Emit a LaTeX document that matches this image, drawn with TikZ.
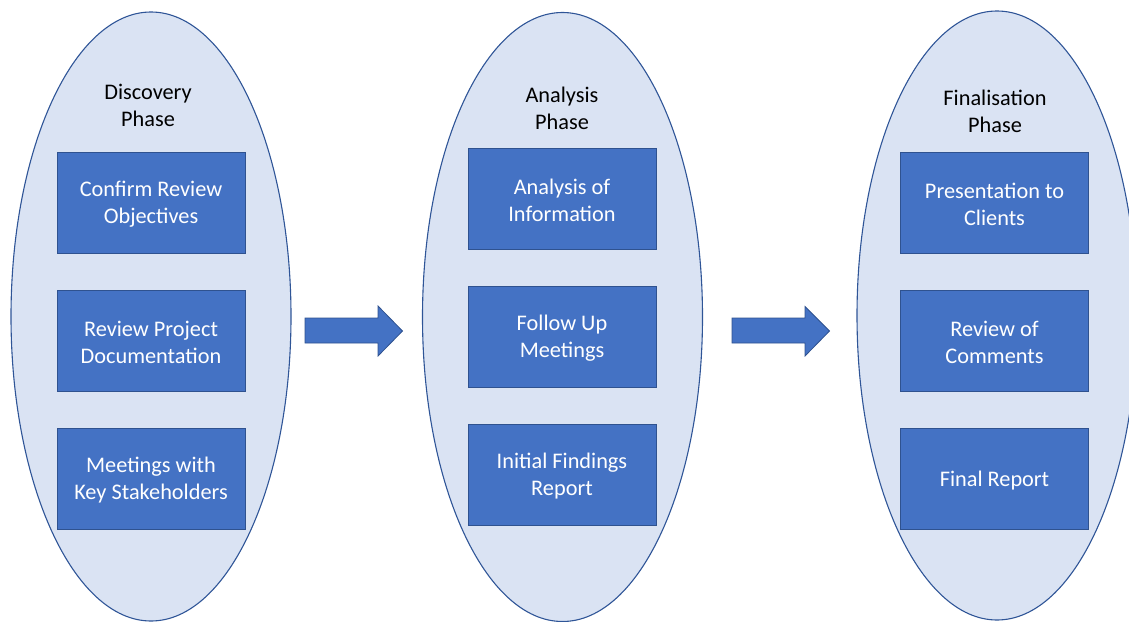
\documentclass[tikz,border=0pt]{standalone}
\usepackage{fontspec}
\setmainfont{Carlito}
\usetikzlibrary{shapes.geometric}
\definecolor{phasefill}{HTML}{DAE3F3}
\definecolor{phaseline}{HTML}{2F5597}
\definecolor{boxfill}{HTML}{4472C4}
\definecolor{boxline}{HTML}{2F528F}
\tikzset{
  phase/.style={ellipse, draw=phaseline, fill=phasefill, line width=1.1pt, inner sep=0pt, minimum width=280pt, minimum height=609pt},
  title/.style={align=center, font=\fontsize{22.3}{27}\selectfont, text=black},
  stepbox/.style={rectangle, draw=boxline, fill=boxfill, line width=1pt, minimum width=188pt, minimum height=101pt, align=center, text=white, font=\fontsize{22.3}{27}\selectfont, inner sep=0pt},
  boxtext/.style={align=center, text=white, font=\fontsize{22.3}{27}\selectfont, inner sep=0pt},
  flowarrow/.style={fill=boxfill, draw=boxline, line width=0.8pt, line join=miter}
}
\begin{document}
\begin{tikzpicture}[x=1pt,y=-1pt]
\useasboundingbox (0,0) rectangle (1129,621);
\clip (0,0) rectangle (1129,621);
% phases
\node[phase] (p1) at (151,316.5) {};
\node[phase] (p2) at (562.5,317) {};
\node[phase] (p3) at (997,315.5) {};
% titles
\node[title] (t1) at (148,105.5) {Discovery\\Phase};
\node[title] (t2) at (562,108.5) {Analysis\\Phase};
\node[title] (t3) at (995,111.5) {Finalisation\\Phase};
% boxes column 1
\node[stepbox] (a1) at (151,202.5) {};
\node[stepbox] (a2) at (151,340.5) {};
\node[stepbox] (a3) at (151,478.5) {};
% boxes column 2
\node[stepbox] (b1) at (562,198.5) {};
\node[stepbox] (b2) at (562,336.5) {};
\node[stepbox] (b3) at (562,474.5) {};
% boxes column 3
\node[stepbox] (c1) at (994.5,202.5) {};
\node[stepbox] (c2) at (994.5,340.5) {};
\node[stepbox] (c3) at (994.5,478.5) {};
% box texts
\node[boxtext] at ([yshift=-2pt]a1.center) {Confirm Review\\Objectives};
\node[boxtext] at ([yshift=-2pt]a2.center) {Review Project\\Documentation};
\node[boxtext] at ([yshift=-2pt]a3.center) {Meetings with\\Key Stakeholders};
\node[boxtext] at ([yshift=-2pt]b1.center) {Analysis of\\Information};
\node[boxtext] at ([yshift=-2pt]b2.center) {Follow Up\\Meetings};
\node[boxtext] at ([yshift=-2pt]b3.center) {Initial Findings\\Report};
\node[boxtext] at ([yshift=-2pt]c1.center) {Presentation to\\Clients};
\node[boxtext] at ([yshift=-2pt]c2.center) {Review of\\Comments};
\node[boxtext] at ([yshift=-2pt]c3.center) {Final Report};
% arrows
\draw[flowarrow] (305,318) -- (378,318) -- (378,306) -- (402.5,331) -- (378,356) -- (378,343) -- (305,343) -- cycle;
\draw[flowarrow] (732,318) -- (805,318) -- (805,306.5) -- (829.5,331) -- (805,356) -- (805,343) -- (732,343) -- cycle;
\end{tikzpicture}
\end{document}
